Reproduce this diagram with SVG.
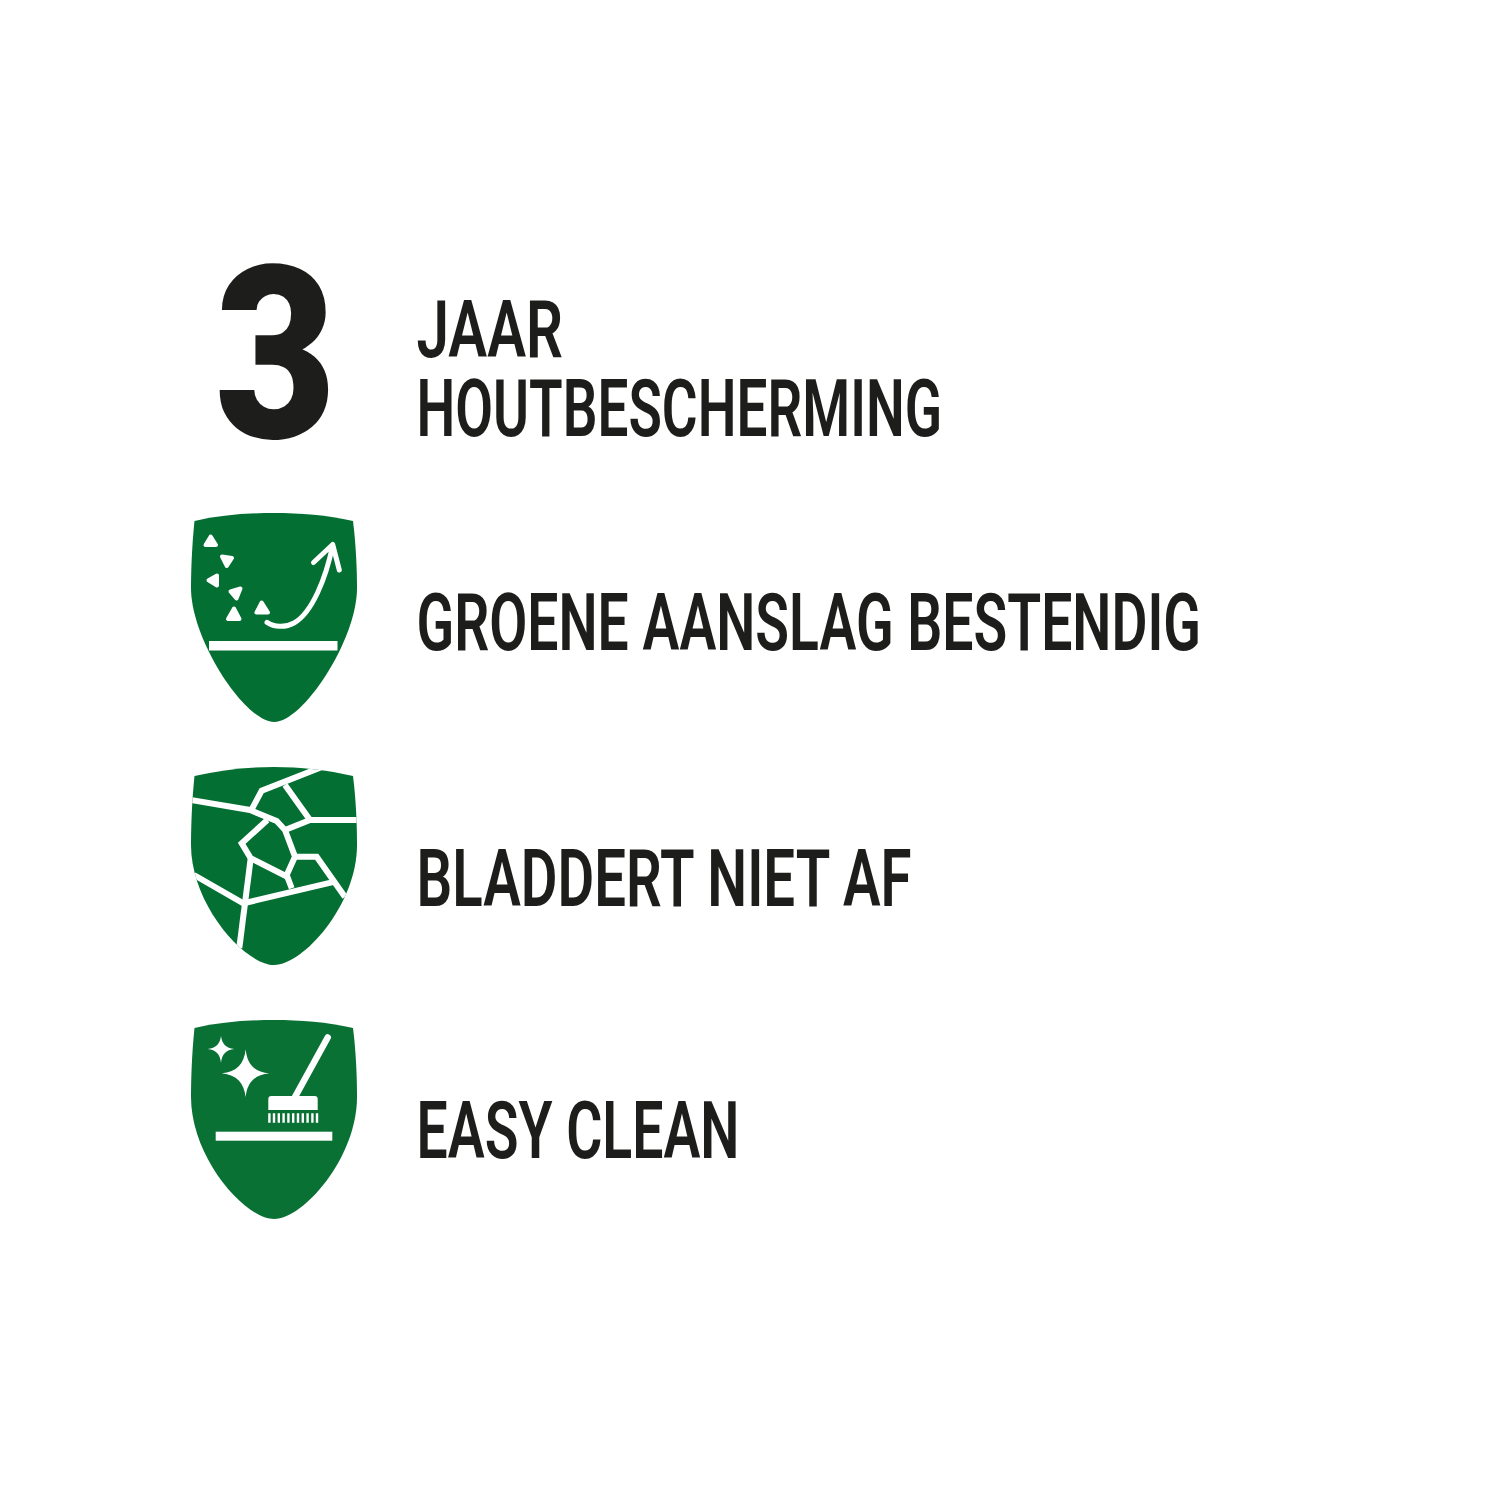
<svg xmlns="http://www.w3.org/2000/svg" width="1501" height="1501" viewBox="0 0 1501 1501">
<style>
.t{font-family:"Roboto","Liberation Sans",sans-serif;font-size:80px;font-weight:600;fill:#1d1d1b}
.w{fill:#fff}
.l{fill:none;stroke:#fff;stroke-width:6;stroke-linejoin:miter}
.tri{fill:#fff;stroke:#fff;stroke-width:4;stroke-linejoin:round}
</style>
<defs>
<clipPath id="c2"><path d="M194.500 776C220 770 247 767 274 767C300 767 327 770 353 776C356 800 357 825 357 845C357 905 303 965 274 965C245 965 191 905 191 845C191 825 192 800 194.500 776Z"/></clipPath>
</defs>
<rect width="1501" height="1501" fill="#fff"/>
<g id="number"><text transform="translate(275.5 438) scale(.86 .99)" x="0" y="0" text-anchor="middle" style="font-family:'Roboto','Liberation Sans',sans-serif;font-size:244px;font-weight:900;fill:#1d1d1b">3</text></g>
<g id="label-houtbescherming">
<text class="t" x="416.5" y="357" textLength="146.500" lengthAdjust="spacingAndGlyphs">JAAR</text>
<text class="t" x="416.5" y="436" textLength="525.500" lengthAdjust="spacingAndGlyphs">HOUTBESCHERMING</text>
</g>
<g id="shield-groene">
<path fill="#046f32" d="M194.500 521C220 515 247 513 274 513C300 513 327 515 353 521C356 545 357 570 357 588C357 640 303 722 274 722C245 722 191 640 191 588C191 570 192 545 194.500 521Z"/>
<polygon class="tri" points="210.700,536.500 205.500,545 216,545"/>
<polygon class="tri" points="222,556.500 232,558 226.800,566"/>
<polygon class="tri" points="217,575.500 208.500,580.200 217,585.500"/>
<polygon class="tri" points="240.500,588.500 230.500,591.500 236.500,598.500"/>
<polygon class="tri" points="234,608.500 228,619 239.500,619"/>
<polygon class="tri" points="261.700,602.500 256.500,612.500 268,612.500"/>
<path fill="none" stroke="#fff" stroke-width="5" stroke-linecap="round" stroke-linejoin="round" d="M267 622.300C274 627 285 628 294 623C312 613 326 578 332.500 546M313.500 562.500L332.700 544.500L339.300 570"/>
<rect class="w" x="209" y="641" width="128.500" height="9.500"/>
<text class="t" x="416.5" y="650" textLength="784.500" lengthAdjust="spacingAndGlyphs">GROENE AANSLAG BESTENDIG</text>
</g>
<g id="shield-bladdert">
<path fill="#046f32" d="M194.500 776C220 770 247 767 274 767C300 767 327 770 353 776C356 800 357 825 357 845C357 905 303 965 274 965C245 965 191 905 191 845C191 825 192 800 194.500 776Z"/>
<g clip-path="url(#c2)">
<path class="l" d="M322 767L261.700 790.700L251.700 809.300"/>
<path class="l" d="M188 799.500L250 810L276.700 821L285 830L295 856.700L286.700 875L291.700 888.300"/>
<path class="l" d="M267.300 820L241.700 843.300L250.700 858.300L288.300 877.300"/>
<path class="l" d="M250.700 858.300L239.300 948"/>
<path class="l" d="M194 875L243.300 903.300L335 881.700"/>
<path class="l" d="M295 856.700L316.700 856.700L345 897"/>
<path class="l" d="M285 785L310 820L360 820"/>
<path class="l" d="M285 830L310 820"/>
</g>
<text class="t" x="416.5" y="906" textLength="495" lengthAdjust="spacingAndGlyphs">BLADDERT NIET AF</text>
</g>
<g id="shield-easy-clean">
<path fill="#0a7135" d="M194.500 1028C220 1022 247 1020 274 1020C300 1020 327 1022 353 1028C356 1052 357 1077 357 1097C357 1158 303 1219 274 1219C245 1219 191 1158 191 1097C191 1077 192 1052 194.500 1028Z"/>
<path class="w" d="M245.700 1049.300C247 1064 254 1072 269.300 1073.300C254 1075 247 1083 245.700 1097.300C244 1083 237 1075 221.700 1073.300C237 1072 244 1064 245.700 1049.300Z"/>
<path class="w" d="M221 1036C222 1044 226 1048 234.300 1049C226 1050 222 1054 221 1062.700C220 1054 216 1050 207.700 1049C216 1048 220 1044 221 1036Z"/>
<path fill="none" stroke="#fff" stroke-width="6.500" stroke-linecap="round" d="M295 1097L327.700 1037.500"/>
<path class="w" d="M268.300 1110V1099Q268.300 1096 271.300 1096H314.700Q317.700 1096 317.700 1099V1110Z"/>
<path fill="none" stroke="#fff" stroke-width="2.400" d="M269.400 1113.300V1122.700M274 1113.300V1122.700M278.800 1113.300V1122.700M283.600 1113.300V1122.700M288.400 1113.300V1122.700M293.200 1113.300V1122.700M298 1113.300V1122.700M302.800 1113.300V1122.700M307.600 1113.300V1122.700M312.400 1113.300V1122.700M317 1113.300V1122.700"/>
<rect class="w" x="215.700" y="1131.700" width="116.600" height="9"/>
<text class="t" x="416.5" y="1158" textLength="323" lengthAdjust="spacingAndGlyphs">EASY CLEAN</text>
</g>
</svg>
